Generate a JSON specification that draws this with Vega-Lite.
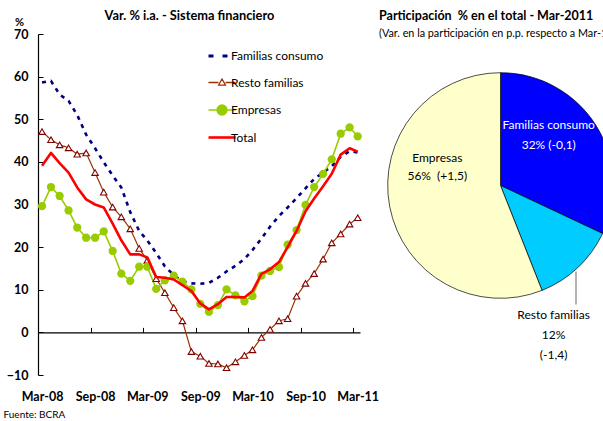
{
  "$schema": "https://vega.github.io/schema/vega-lite/v6.json",
  "background": "white",
  "padding": {"left": 3, "top": 9, "right": -17, "bottom": 2},
  "spacing": -8,
  "config": {
    "view": {"stroke": null},
    "font": "Lato",
    "title": {"font": "Lato", "fontSize": 12.8, "fontWeight": "bold", "color": "black"}
  },
  "resolve": {"scale": {"color": "independent"}, "legend": {"color": "independent"}},
  "hconcat": [
    {
      "width": 322,
      "height": 341,
      "title": {"text": "Var. % i.a. - Sistema financiero", "frame": "group", "dx": -9.5, "offset": -6.5},
      "data": {"values": [
        {"fecha": "2008-03-01", "Familias consumo": 58.6, "Resto familias": 47.1, "Empresas": 29.6, "Total": 39.1},
        {"fecha": "2008-04-01", "Familias consumo": 59.0, "Resto familias": 45.2, "Empresas": 34.1, "Total": 42.1},
        {"fecha": "2008-05-01", "Familias consumo": 55.8, "Resto familias": 44.0, "Empresas": 32.0, "Total": 39.7},
        {"fecha": "2008-06-01", "Familias consumo": 54.3, "Resto familias": 43.3, "Empresas": 28.6, "Total": 37.5},
        {"fecha": "2008-07-01", "Familias consumo": 51.0, "Resto familias": 41.8, "Empresas": 24.6, "Total": 34.0},
        {"fecha": "2008-08-01", "Familias consumo": 46.4, "Resto familias": 42.1, "Empresas": 22.2, "Total": 31.2},
        {"fecha": "2008-09-01", "Familias consumo": 43.2, "Resto familias": 37.5, "Empresas": 22.2, "Total": 30.0},
        {"fecha": "2008-10-01", "Familias consumo": 39.9, "Resto familias": 32.9, "Empresas": 23.7, "Total": 29.3},
        {"fecha": "2008-11-01", "Familias consumo": 36.8, "Resto familias": 29.4, "Empresas": 19.1, "Total": 25.5},
        {"fecha": "2008-12-01", "Familias consumo": 34.0, "Resto familias": 27.1, "Empresas": 13.8, "Total": 21.6},
        {"fecha": "2009-01-01", "Familias consumo": 28.2, "Resto familias": 24.3, "Empresas": 12.1, "Total": 18.3},
        {"fecha": "2009-02-01", "Familias consumo": 23.8, "Resto familias": 19.7, "Empresas": 15.4, "Total": 18.3},
        {"fecha": "2009-03-01", "Familias consumo": 21.6, "Resto familias": 16.9, "Empresas": 15.4, "Total": 17.6},
        {"fecha": "2009-04-01", "Familias consumo": 18.6, "Resto familias": 12.6, "Empresas": 10.2, "Total": 13.0},
        {"fecha": "2009-05-01", "Familias consumo": 15.5, "Resto familias": 9.3, "Empresas": 12.2, "Total": 12.8},
        {"fecha": "2009-06-01", "Familias consumo": 13.4, "Resto familias": 5.8, "Empresas": 13.3, "Total": 12.4},
        {"fecha": "2009-07-01", "Familias consumo": 12.0, "Resto familias": 2.7, "Empresas": 11.9, "Total": 11.1},
        {"fecha": "2009-08-01", "Familias consumo": 11.5, "Resto familias": -4.5, "Empresas": 10.1, "Total": 9.7},
        {"fecha": "2009-09-01", "Familias consumo": 11.4, "Resto familias": -5.6, "Empresas": 6.7, "Total": 6.8},
        {"fecha": "2009-10-01", "Familias consumo": 11.6, "Resto familias": -7.3, "Empresas": 4.8, "Total": 5.4},
        {"fecha": "2009-11-01", "Familias consumo": 12.8, "Resto familias": -7.4, "Empresas": 6.4, "Total": 6.6},
        {"fecha": "2009-12-01", "Familias consumo": 14.3, "Resto familias": -8.3, "Empresas": 10.1, "Total": 8.3},
        {"fecha": "2010-01-01", "Familias consumo": 15.6, "Resto familias": -6.9, "Empresas": 8.7, "Total": 8.3},
        {"fecha": "2010-02-01", "Familias consumo": 17.2, "Resto familias": -5.4, "Empresas": 7.3, "Total": 8.2},
        {"fecha": "2010-03-01", "Familias consumo": 19.3, "Resto familias": -4.1, "Empresas": 8.5, "Total": 9.7},
        {"fecha": "2010-04-01", "Familias consumo": 22.0, "Resto familias": -1.2, "Empresas": 13.3, "Total": 13.7},
        {"fecha": "2010-05-01", "Familias consumo": 24.8, "Resto familias": 0.7, "Empresas": 14.4, "Total": 14.8},
        {"fecha": "2010-06-01", "Familias consumo": 27.3, "Resto familias": 2.7, "Empresas": 15.3, "Total": 16.5},
        {"fecha": "2010-07-01", "Familias consumo": 29.3, "Resto familias": 3.2, "Empresas": 20.6, "Total": 20.0},
        {"fecha": "2010-08-01", "Familias consumo": 31.5, "Resto familias": 8.5, "Empresas": 24.0, "Total": 23.8},
        {"fecha": "2010-09-01", "Familias consumo": 33.8, "Resto familias": 11.5, "Empresas": 29.9, "Total": 28.4},
        {"fecha": "2010-10-01", "Familias consumo": 36.0, "Resto familias": 13.8, "Empresas": 34.1, "Total": 31.4},
        {"fecha": "2010-11-01", "Familias consumo": 37.5, "Resto familias": 17.2, "Empresas": 37.2, "Total": 34.3},
        {"fecha": "2010-12-01", "Familias consumo": 39.0, "Resto familias": 21.0, "Empresas": 40.6, "Total": 37.2},
        {"fecha": "2011-01-01", "Familias consumo": 41.2, "Resto familias": 23.1, "Empresas": 46.6, "Total": 41.7},
        {"fecha": "2011-02-01", "Familias consumo": 42.5, "Resto familias": 25.4, "Empresas": 48.1, "Total": 43.2},
        {"fecha": "2011-03-01", "Familias consumo": 42.2, "Resto familias": 26.9, "Empresas": 46.0, "Total": 42.4}
      ]},
      "transform": [{"fold": ["Familias consumo", "Resto familias", "Empresas", "Total"], "as": ["serie", "valor"]}],
      "encoding": {
        "x": {
          "field": "fecha", "type": "temporal",
          "scale": {"type": "utc", "domain": [{"year": 2008, "month": 2, "date": 16, "utc": true}, {"year": 2011, "month": 3, "date": 9, "utc": true}]},
          "axis": {
            "title": "Fuente: BCRA", "titleX": -35, "titleY": 85, "titleAlign": "left", "titleAnchor": "start", "titleBaseline": "alphabetic",
            "titleFont": "Lato", "titleFontSize": 10, "titleFontWeight": "normal", "titleColor": "black",
            "grid": false, "offset": -42.625,
            "values": [
              {"year": 2008, "month": 3, "date": 1, "utc": true},
              {"year": 2008, "month": 9, "date": 1, "utc": true},
              {"year": 2009, "month": 3, "date": 1, "utc": true},
              {"year": 2009, "month": 9, "date": 1, "utc": true},
              {"year": 2010, "month": 3, "date": 1, "utc": true},
              {"year": 2010, "month": 9, "date": 1, "utc": true},
              {"year": 2011, "month": 3, "date": 1, "utc": true}
            ],
            "labelExpr": "utcFormat(datum.value, '%b-%y')",
            "tickSize": -5, "tickOffset": -4.4, "labelOffset": 4.4, "labelPadding": 63,
            "labelFont": "Lato", "labelFontSize": 12.5, "labelFontWeight": "bold", "labelColor": "black",
            "domainColor": "black", "domainWidth": 1.2, "tickColor": "black", "tickWidth": 1,
            "labelFlush": false, "labelOverlap": false
          }
        },
        "y": {
          "field": "valor", "type": "quantitative",
          "scale": {"domain": [-10, 70], "nice": false, "zero": false},
          "axis": {
            "values": [-10, 0, 10, 20, 30, 40, 50, 60, 70],
            "grid": false, "tickSize": -5, "labelPadding": 15,
            "labelFont": "Lato", "labelFontSize": 12.5, "labelFontWeight": "bold", "labelColor": "black",
            "domainColor": "black", "domainWidth": 1.2, "tickColor": "black",
            "title": "%", "titleAngle": 0, "titleX": -19, "titleY": -9, "titleAlign": "center", "titleBaseline": "alphabetic",
            "titleFont": "Lato", "titleFontSize": 11, "titleFontWeight": "bold", "titleColor": "black"
          }
        }
      },
      "layer": [
        {
          "transform": [{"filter": "datum.serie !== 'Total'"}],
          "mark": {"type": "line", "strokeCap": "butt", "strokeJoin": "round"},
          "encoding": {
            "color": {
              "field": "serie", "type": "nominal",
              "scale": {"domain": ["Familias consumo", "Resto familias", "Empresas", "Total"], "range": ["#000080", "#993300", "#99CC00", "#FF0000"]},
              "legend": {
                "title": null, "orient": "none", "legendX": 178, "legendY": 16,
                "symbolSize": 729, "rowPadding": 12.5, "labelOffset": 3,
                "labelFont": "Lato", "labelFontSize": 12, "labelColor": "black",
                "encode": {
                  "symbols": {
                    "update": {
                      "shape": {"signal": "datum.value === 'Familias consumo' ? 'M-1,0H-0.63M0.04,0H0.41' : datum.value === 'Resto familias' ? 'M-1,0H-0.26M0.26,0H1M-0.26,0.2L0,-0.26L0.26,0.2Z' : datum.value === 'Empresas' ? 'M-1,0H1M-0.36,0A0.36,0.36,0,1,0,0.36,0A0.36,0.36,0,1,0,-0.36,0Z' : 'M-1,0H1'"},
                      "fill": {"signal": "datum.value === 'Resto familias' ? 'white' : datum.value === 'Empresas' ? '#99CC00' : 'transparent'"},
                      "stroke": {"signal": "datum.value === 'Familias consumo' ? '#000080' : datum.value === 'Resto familias' ? '#993300' : datum.value === 'Empresas' ? '#99CC00' : '#FF0000'"},
                      "strokeWidth": {"signal": "datum.value === 'Familias consumo' ? 3.2 : datum.value === 'Resto familias' ? 1.3 : datum.value === 'Empresas' ? 1.6 : 2.6"},
                      "opacity": {"value": 1}
                    }
                  }
                }
              }
            },
            "strokeDash": {"condition": {"test": "datum.serie === 'Familias consumo'", "value": [4, 5]}, "value": [1, 0]},
            "strokeWidth": {"condition": [{"test": "datum.serie === 'Familias consumo'", "value": 2.6}, {"test": "datum.serie === 'Empresas'", "value": 1.6}], "value": 1.2}
          }
        },
        {
          "transform": [{"filter": "datum.serie === 'Resto familias'"}],
          "mark": {"type": "point", "shape": "triangle-up", "filled": true, "fill": "white", "stroke": "#800000", "strokeWidth": 1.1, "size": 42, "opacity": 1}
        },
        {
          "transform": [{"filter": "datum.serie === 'Empresas'"}],
          "mark": {"type": "circle", "fill": "#99CC00", "size": 68, "opacity": 1}
        },
        {
          "transform": [{"filter": "datum.serie === 'Total'"}],
          "mark": {"type": "line", "strokeWidth": 2.6, "strokeJoin": "round"},
          "encoding": {"color": {"field": "serie", "type": "nominal"}}
        }
      ]
    },
    {
      "width": 243,
      "height": 303,
      "title": {
        "text": "Participación\u00a0 % en el total - Mar-2011",
        "subtitle": "(Var. en la participación en p.p. respecto a Mar-10)",
        "fontSize": 12.5,
        "subtitleFont": "Lato", "subtitleFontSize": 10.8, "subtitleColor": "black", "subtitlePadding": 6,
        "frame": "group", "anchor": "start", "dx": 0, "offset": -5
      },
      "data": {"values": [
        {"sector": "Familias consumo", "participacion": 32, "orden": 1, "etiqueta": "Familias consumo\n32% (-0,1)"},
        {"sector": "Resto familias", "participacion": 12, "orden": 2, "etiqueta": "Resto familias\n12%\n(-1,4)"},
        {"sector": "Empresas", "participacion": 56, "orden": 3, "etiqueta": "Empresas\n56%\u00a0 (+1,5)"}
      ]},
      "layer": [
        {
          "mark": {"type": "arc", "radius": 112.8, "stroke": "black", "strokeWidth": 0.7},
          "encoding": {
            "theta": {"field": "participacion", "type": "quantitative", "stack": true},
            "order": {"field": "orden", "type": "quantitative"},
            "color": {"field": "sector", "type": "nominal", "scale": {"domain": ["Familias consumo", "Resto familias", "Empresas"], "range": ["#0000FF", "#00CCFF", "#FFFFCC"]}, "legend": null}
          }
        },
        {
          "mark": {"type": "text", "radius": 69.8, "dx": -10.7, "dy": -22.8, "lineBreak": "\n", "lineHeight": 19.4, "font": "Lato", "fontSize": 12, "color": "white"},
          "encoding": {
            "theta": {"field": "participacion", "type": "quantitative", "stack": true},
            "order": {"field": "orden", "type": "quantitative"},
            "text": {"condition": {"test": "datum.sector === 'Familias consumo'", "field": "etiqueta"}, "value": ""}
          }
        },
        {
          "mark": {"type": "text", "radius": 65.9, "dx": 1.5, "dy": -39.8, "lineBreak": "\n", "lineHeight": 18, "font": "Lato", "fontSize": 12, "color": "black"},
          "encoding": {
            "theta": {"field": "participacion", "type": "quantitative", "stack": true},
            "order": {"field": "orden", "type": "quantitative"},
            "text": {"condition": {"test": "datum.sector === 'Empresas'", "field": "etiqueta"}, "value": ""}
          }
        },
        {
          "mark": {"type": "text", "radius": 60, "dx": 12, "dy": 86.1, "lineBreak": "\n", "lineHeight": 19.7, "font": "Lato", "fontSize": 12, "color": "black"},
          "encoding": {
            "theta": {"field": "participacion", "type": "quantitative", "stack": true},
            "order": {"field": "orden", "type": "quantitative"},
            "text": {"condition": {"test": "datum.sector === 'Resto familias'", "field": "etiqueta"}, "value": ""}
          }
        },
        {
          "transform": [{"filter": "datum.sector === 'Resto familias'"}],
          "mark": {"type": "rule", "color": "#7f7f7f", "strokeWidth": 1.2},
          "encoding": {
            "x": {"value": 197},
            "y": {"value": 237.5},
            "y2": {"value": 270.5}
          }
        }
      ]
    }
  ]
}
